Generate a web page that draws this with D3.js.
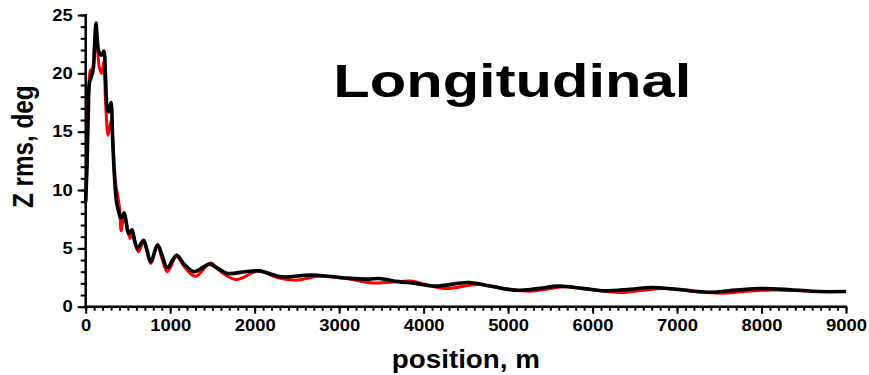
<!DOCTYPE html>
<html>
<head>
<meta charset="utf-8">
<script src="https://cdn.jsdelivr.net/npm/d3@7"></script>
<style>
  html, body { margin: 0; padding: 0; background: #fff; }
  svg { display: block; }
  text { font-family: "Liberation Sans", Arial, sans-serif; font-weight: bold; fill: #000; }
</style>
</head>
<body>
<svg id="chart" width="869" height="375"></svg>
<script>
// Z rms along the line: two simulation runs (red and black)
const redPos = [0, 15, 30, 45, 60, 80, 95, 115, 140, 165, 190, 212, 235, 265, 290, 305, 330, 355, 375,
  400, 420, 455, 485, 525, 548, 580, 625, 684, 720, 771, 850, 900, 967, 1075, 1170, 1300, 1480, 1580,
  1776, 2052, 2250, 2485, 2760, 3077, 3392, 3700, 3850, 4000, 4260, 4653, 4950, 5245, 5450, 5680, 6000,
  6310, 6600, 6862, 7200, 7530, 7800, 8083, 8400, 8700, 9000];
const redZ = [9.0, 12.5, 17.0, 19.8, 20.3, 20.3, 21.2, 23.4, 22.0, 20.4, 20.0, 21.0, 17.6, 14.7, 15.6, 16.0, 13.0, 10.5, 9.7,
  8.5, 6.5, 8.1, 7.0, 5.85, 6.6, 5.6, 4.7, 5.6, 4.9, 3.7, 5.3, 4.2, 3.0, 4.3, 3.4, 2.6, 3.75, 3.1,
  2.33, 3.07, 2.55, 2.27, 2.6, 2.42, 2.04, 2.15, 2.2, 1.95, 1.56, 1.9, 1.55, 1.33, 1.5, 1.7, 1.45,
  1.22, 1.4, 1.56, 1.3, 1.16, 1.3, 1.42, 1.38, 1.3, 1.3];

const blackPos = [0, 15, 30, 45, 70, 90, 105, 122, 150, 175, 195, 215, 235, 255, 275, 300, 318, 340, 365,
  395, 416, 455, 480, 506, 546, 575, 613, 684, 720, 771, 850, 900, 967, 1075, 1170, 1283, 1469, 1560,
  1677, 1890, 2052, 2327, 2604, 2740, 3100, 3350, 3470, 3700, 3900, 4140, 4535, 4800, 5087, 5350,
  5600, 5900, 6150, 6450, 6700, 7000, 7370, 7700, 8000, 8350, 8670, 9000];
const blackZ = [9.0, 12.0, 16.5, 19.2, 19.8, 20.4, 22.3, 24.3, 22.0, 21.6, 21.6, 21.9, 19.6, 17.0, 16.7, 17.5, 14.5, 11.2, 9.0,
  8.0, 7.6, 8.0, 7.2, 6.3, 6.6, 5.8, 5.0, 5.7, 5.0, 3.85, 5.3, 4.5, 3.35, 4.4, 3.6, 3.0, 3.65, 3.3,
  2.85, 3.0, 3.07, 2.56, 2.7, 2.7, 2.45, 2.36, 2.42, 2.15, 2.0, 1.76, 2.07, 1.75, 1.42, 1.55,
  1.76, 1.55, 1.36, 1.5, 1.64, 1.5, 1.24, 1.42, 1.56, 1.45, 1.3, 1.3];

const xTicks = [0, 1000, 2000, 3000, 4000, 5000, 6000, 7000, 8000, 9000];
const yTicks = [0, 5, 10, 15, 20, 25];

const titleText = "Longitudinal";
const xLabel = "position, m";
const yLabel = "Z rms, deg";

const svg = d3.select("#chart");

const x = d3.scaleLinear().domain([0, 9000]).range([85.7, 846]);
const y = d3.scaleLinear().domain([0, 25]).range([306.7, 15]);

// widen text horizontally by factor k
function widen(sel, k) {
  sel.each(function () {
    const w = this.getComputedTextLength();
    d3.select(this).attr("textLength", w * k).attr("lengthAdjust", "spacingAndGlyphs");
  });
}

// minor ticks
const gx = svg.append("g").attr("transform", `translate(0,${y(0)})`);
gx.append("g").call(d3.axisBottom(x).tickValues(d3.range(0, 9001, 100)).tickSize(4).tickFormat(""))
  .call(g => g.select(".domain").remove());
gx.append("g").call(d3.axisBottom(x).tickValues(xTicks).tickSize(7).tickPadding(6).tickFormat(d3.format("d")))
  .call(g => g.select(".domain").attr("stroke-width", 2.5));
gx.selectAll(".tick line").attr("stroke-width", 2);
gx.selectAll(".tick text").attr("font-size", 16).attr("dy", null).attr("y", 24)
  .attr("font-family", "Liberation Sans, Arial, sans-serif").attr("font-weight", "bold")
  .call(widen, 1.15);

const gy = svg.append("g").attr("transform", `translate(${x(0)},0)`);
gy.append("g").call(d3.axisLeft(y).tickValues(d3.range(0, 26, 1)).tickSize(5).tickFormat(""))
  .call(g => g.select(".domain").remove());
gy.append("g").call(d3.axisLeft(y).tickValues(yTicks).tickSize(8).tickPadding(5).tickFormat(d3.format("d")))
  .call(g => g.select(".domain").attr("stroke-width", 2.5));
gy.selectAll(".tick line").attr("stroke-width", 2);
gy.selectAll(".tick text").attr("font-size", 16)
  .attr("font-family", "Liberation Sans, Arial, sans-serif").attr("font-weight", "bold")
  .call(widen, 1.15);
gy.select(".domain").attr("d", `M0,${y(0)}V${y(25) - 1}`);
gx.select(".domain").attr("d", `M${x(0) - 1},0H${x(9000) + 1}`);

// curves
const line = d3.line()
  .x(d => x(d[0]))
  .y(d => y(d[1]))
  .curve(d3.curveCatmullRom.alpha(0.5));

svg.append("path")
  .datum(d3.zip(redPos, redZ))
  .attr("fill", "none").attr("stroke", "#ff0000").attr("stroke-width", 3)
  .attr("stroke-linejoin", "round")
  .attr("d", line);

svg.append("path")
  .datum(d3.zip(blackPos, blackZ))
  .attr("fill", "none").attr("stroke", "#000").attr("stroke-width", 3.6)
  .attr("stroke-linejoin", "round")
  .attr("d", line);

// title
svg.append("text")
  .attr("x", 333.3).attr("y", 96.7)
  .attr("font-size", 46.5)
  .attr("textLength", 358).attr("lengthAdjust", "spacingAndGlyphs")
  .text(titleText);

// axis titles
svg.append("text")
  .attr("x", (x(0) + x(9000)) / 2).attr("y", 368.3)
  .attr("text-anchor", "middle")
  .attr("font-size", 25)
  .attr("textLength", 148).attr("lengthAdjust", "spacingAndGlyphs")
  .text(xLabel);

svg.append("text")
  .attr("transform", "translate(33.3,146.7) rotate(-90) scale(1,1.19)")
  .attr("text-anchor", "middle")
  .attr("font-size", 24.3)
  .text(yLabel);
</script>
</body>
</html>
